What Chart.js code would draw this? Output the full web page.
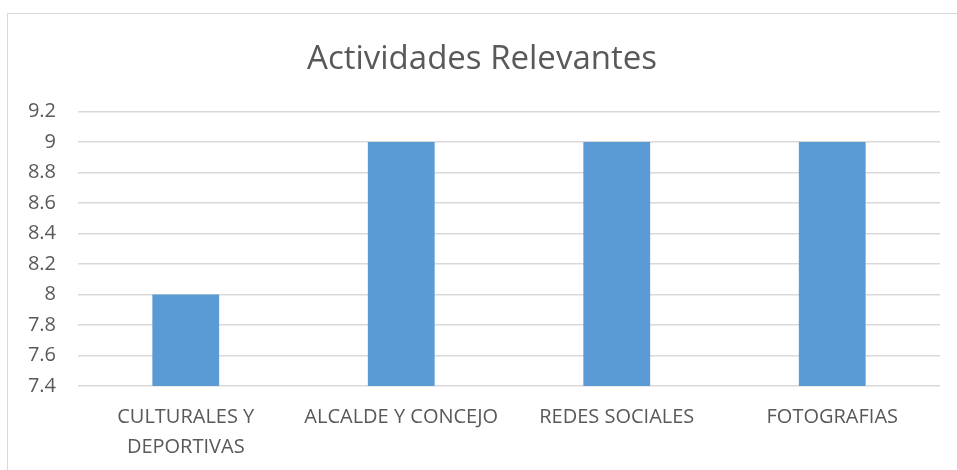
<!DOCTYPE html>
<html>
<head>
<meta charset="utf-8">
<script src="https://cdn.jsdelivr.net/npm/chart.js@4"></script>
<style>
  html, body { margin: 0; padding: 0; background: #fff; }
  #wrap { position: relative; width: 957px; height: 470px; overflow: hidden; }
  #frame { position: absolute; left: 7px; top: 13px; width: 1000px; height: 500px; border: 1px solid #d9d9d9; }
  canvas { position: absolute; left: 0; top: 0; }
</style>
</head>
<body>
<div id="wrap">
  <div id="frame"></div>
  <canvas id="chart" width="957" height="470"></canvas>
</div>
<script>
const categories = [['CULTURALES Y', 'DEPORTIVAS'], 'ALCALDE Y CONCEJO', 'REDES SOCIALES', 'FOTOGRAFIAS'];
const values = [8, 9, 9, 9];
const yMin = 7.4;
const yMax = 9.2;
const yStep = 0.2;

const textColor = '#595959';
const fontFamily = "'Open Sans', sans-serif";

const ctx = document.getElementById('chart').getContext('2d');
new Chart(ctx, {
    type: 'bar',
    data: {
        labels: categories,
        datasets: [
            {
                label: 'Actividades Relevantes',
                data: values,
                backgroundColor: '#5b9bd5',
                categoryPercentage: 1,
                barPercentage: 0.31,
            },
        ],
    },
    options: {
        responsive: false,
        animation: false,
        layout: {
            padding: { left: 24, right: 17, top: 30, bottom: 8 },
        },
        plugins: {
            legend: { display: false },
            tooltip: { enabled: false },
            title: {
                display: true,
                text: 'Actividades Relevantes',
                color: textColor,
                font: { family: fontFamily, size: 33, weight: 'normal' },
                padding: { top: 10, bottom: 32 },
            },
        },
        scales: {
            x: {
                afterFit: (scale) => { scale.height = 76; },
                grid: { display: false, drawTicks: false },
                border: { display: false },
                ticks: {
                    color: textColor,
                    font: { family: fontFamily, size: 20, lineHeight: 1.5 },
                    padding: 16,
                    maxRotation: 0,
                    autoSkip: false,
                },
            },
            y: {
                min: yMin,
                max: yMax,
                afterFit: (scale) => { scale.width = 54; },
                grid: { color: '#d9d9d9', lineWidth: 1.5, drawTicks: false },
                border: { display: false },
                ticks: {
                    stepSize: yStep,
                    color: textColor,
                    font: { family: fontFamily, size: 20 },
                    padding: 22,
                    callback: (v) => Math.round(v * 10) / 10,
                },
            },
        },
    },
});
</script>
</body>
</html>
